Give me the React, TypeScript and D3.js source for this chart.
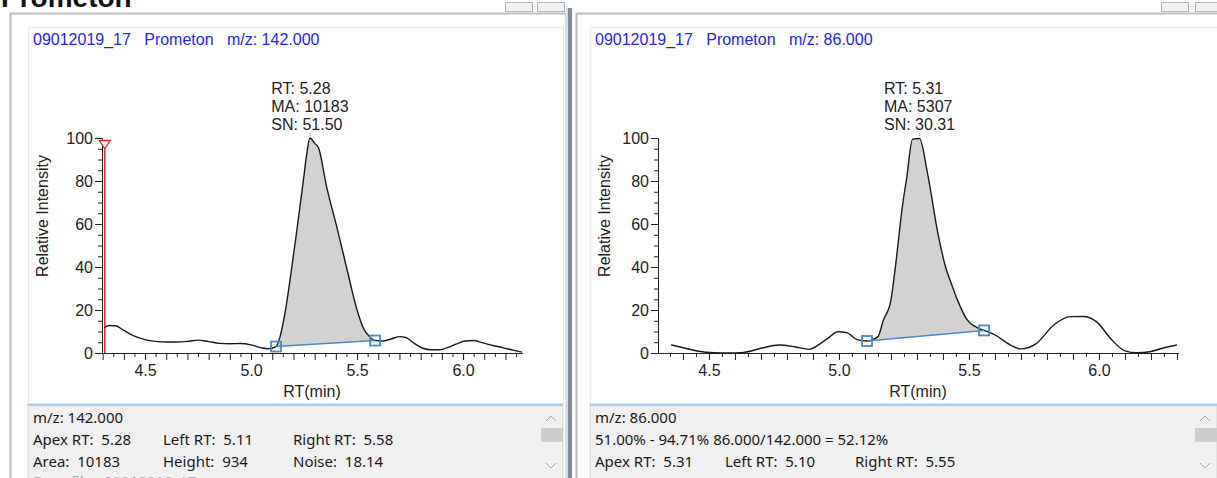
import { useEffect, useRef } from 'react';
import * as d3 from 'd3';

// m/z 142 trace (left)
const rt142 = [4.307, 4.33, 4.36, 4.4, 4.45, 4.5, 4.55, 4.6, 4.65, 4.7, 4.75, 4.8, 4.85, 4.9, 4.95, 5.0, 5.05, 5.08, 5.118, 5.137, 5.16, 5.184, 5.216, 5.247, 5.262, 5.278, 5.3, 5.318, 5.357, 5.404, 5.45, 5.5, 5.53, 5.56, 5.585, 5.62, 5.66, 5.7, 5.73, 5.77, 5.81, 5.85, 5.89, 5.93, 5.97, 6.01, 6.05, 6.09, 6.14, 6.19, 6.24, 6.278];
const int142 = [11.6, 12.8, 12.7, 10.5, 7.8, 6.2, 5.4, 5.1, 5.1, 5.4, 6.0, 5.3, 4.5, 4.3, 4.4, 3.8, 2.4, 2.0, 3.0, 7.6, 18.5, 34, 57, 80.5, 92, 100, 97.5, 95.5, 77, 58.8, 40, 20, 11.5, 7.5, 5.8, 5.6, 6.5, 7.6, 7.2, 4.5, 2.2, 1.5, 1.5, 2.6, 4.2, 5.6, 5.8, 4.8, 3.5, 2.4, 1.2, 0.4];

// m/z 86 trace (right)
const rt86 = [4.354, 4.41, 4.46, 4.52, 4.57, 4.635, 4.7, 4.77, 4.83, 4.885, 4.93, 4.957, 4.996, 5.03, 5.07, 5.108, 5.15, 5.17, 5.2, 5.215, 5.246, 5.26, 5.283, 5.31, 5.34, 5.38, 5.41, 5.43, 5.456, 5.49, 5.535, 5.558, 5.6, 5.66, 5.7, 5.76, 5.826, 5.89, 5.94, 5.99, 6.05, 6.1, 6.146, 6.196, 6.244, 6.3];
const int86 = [3.8, 2.2, 0.8, 0.1, 0, 0.3, 2.2, 3.7, 2.9, 1.7, 4.5, 6.8, 9.9, 9.5, 6.2, 5.6, 7.6, 15, 24.6, 38, 70, 81, 99.5, 99.8, 84, 56, 40, 33, 24.6, 16, 11.6, 10.5, 8.4, 3.7, 1.9, 4.5, 13, 16.9, 17, 14.6, 6, 1, 0.1, 0.6, 2.2, 3.7];

const xTickValues = [4.5, 5.0, 5.5, 6.0];
const yTickValues = [0, 20, 40, 60, 80, 100];

const headerText = 'Prometon';
const title142 = '09012019_17   Prometon   m/z: 142.000';
const title86 = '09012019_17   Prometon   m/z: 86.000';
const peakLabel142 = ['RT: 5.28', 'MA: 10183', 'SN: 51.50'];
const peakLabel86 = ['RT: 5.31', 'MA: 5307', 'SN: 30.31'];
const bounds142 = [5.118, 5.585];
const bounds86 = [5.108, 5.558];
const cursorRT = 4.31;

const info142 = [
  ['m/z: 142.000'],
  ['Apex RT:  5.28', 'Left RT:  5.11', 'Right RT:  5.58'],
  ['Area:  10183', 'Height:  934', 'Noise:  18.14'],
  ['Base file:  09012019_17'],
];
const info86 = [
  ['m/z: 86.000'],
  ['51.00% - 94.71% 86.000/142.000 = 52.12%'],
  ['Apex RT:  5.31', 'Left RT:  5.10', 'Right RT:  5.55'],
];

const CHART_FONT = '"Liberation Sans", Arial, sans-serif';
const UI_FONT = '"Segoe UI", "Noto Sans", sans-serif';

const panels = [
  { rt: rt142, intensity: int142, title: title142, peak: peakLabel142, bounds: bounds142, info: info142, cursor: cursorRT,
    frame: [10, 566], inner: [28, 563], plot: [102, 522], domain: [4.297, 6.278], buttons: [505, 537] },
  { rt: rt86, intensity: int86, title: title86, peak: peakLabel86, bounds: bounds86, info: info86, cursor: null,
    frame: [576, 1240], inner: [590, 1217], plot: [658, 1178], domain: [4.304, 6.304], buttons: [1161, 1195] },
];

const interp = (xs: number[], ys: number[], t: number) => {
  const i = Math.max(0, Math.min(xs.length - 2, d3.bisectRight(xs, t) - 1));
  const f = (t - xs[i]) / (xs[i + 1] - xs[i]);
  return ys[i] + f * (ys[i + 1] - ys[i]);
};

function drawPanel(svg: any, p: any) {
  const g = svg.append('g');
  const [fx0, fx1] = p.frame;
  const [ix0, ix1] = p.inner;
  const top = 13;

  // frame + chart area
  g.append('rect').attr('x', fx0 + 0.5).attr('y', top + 0.5).attr('width', fx1 - fx0).attr('height', 500)
    .attr('fill', '#fff').attr('stroke', '#bdbdbd').attr('stroke-width', 2);
  g.append('rect').attr('x', ix0 + 0.5).attr('y', 27.5).attr('width', ix1 - ix0).attr('height', 376)
    .attr('fill', '#fff').attr('stroke', '#e4ecf4');

  // small window buttons
  p.buttons.forEach((bx: number) => {
    g.append('rect').attr('x', bx + 0.5).attr('y', 2.5).attr('width', 27).attr('height', 9)
      .attr('fill', '#f2f2f2').attr('stroke', '#b4b4b4');
  });

  g.append('text').attr('x', ix0 + 5).attr('y', 45).attr('fill', '#2424ee')
    .attr('font-family', CHART_FONT).attr('font-size', 16).style('white-space', 'pre').text(p.title);

  const x = d3.scaleLinear().domain(p.domain).range(p.plot);
  const y = d3.scaleLinear().domain([0, 100]).range([353, 138]);
  const pts = p.rt.map((t: number, i: number) => [t, p.intensity[i]]);

  // peak fill between trace and baseline
  const [lo, hi] = p.bounds;
  const vLo = interp(p.rt, p.intensity, lo);
  const vHi = interp(p.rt, p.intensity, hi);
  const base = (t: number) => vLo + ((t - lo) / (hi - lo)) * (vHi - vLo);
  const peakPts = pts.filter((d: number[]) => d[0] >= lo - 1e-9 && d[0] <= hi + 1e-9);
  g.append('path').datum(peakPts)
    .attr('d', d3.area<number[]>().x((d) => x(d[0])).y0((d) => y(base(d[0]))).y1((d) => y(d[1])).curve(d3.curveMonotoneX))
    .attr('fill', '#d2d2d2');

  // axes
  const xMinor = d3.range(86, 127).map((i) => i * 0.05).filter((t) => t >= p.domain[0] - 1e-6 && t <= p.domain[1]);
  const axX = g.append('g').attr('transform', 'translate(0,353)');
  axX.append('g').call(d3.axisBottom(x).tickValues(xMinor.filter((t) => Math.round(t * 20) % 2 === 1)).tickSize(4).tickSizeOuter(0).tickFormat(() => ''));
  axX.append('g').call(d3.axisBottom(x).tickValues(xMinor.filter((t) => Math.round(t * 20) % 2 === 0)).tickSize(7).tickSizeOuter(0).tickFormat(() => ''));
  axX.append('g').call(d3.axisBottom(x).tickValues(xTickValues).tickSize(7).tickSizeOuter(0).tickPadding(5).tickFormat(d3.format('.1f')));

  const axY = g.append('g').attr('transform', `translate(${p.plot[0]},0)`);
  axY.append('g').call(d3.axisLeft(y).tickValues(d3.range(0, 101, 5)).tickSize(4).tickSizeOuter(0).tickFormat(() => ''));
  axY.append('g').call(d3.axisLeft(y).tickValues(yTickValues).tickSize(7).tickSizeOuter(0).tickPadding(2));

  g.selectAll('.tick text').attr('font-family', CHART_FONT).attr('font-size', 16).attr('fill', '#222');
  g.selectAll('.domain, .tick line').attr('stroke', '#222');

  // axis titles
  g.append('text').attr('x', (p.plot[0] + p.plot[1]) / 2).attr('y', 397).attr('text-anchor', 'middle')
    .attr('font-family', CHART_FONT).attr('font-size', 16).attr('fill', '#222').text('RT(min)');
  g.append('text').attr('transform', `translate(${ix0 + 20},216) rotate(-90)`).attr('text-anchor', 'middle')
    .attr('font-family', CHART_FONT).attr('font-size', 16).attr('fill', '#222').text('Relative Intensity');

  // cursor marker
  if (p.cursor != null) {
    const cx = x(p.cursor);
    g.append('line').attr('x1', cx).attr('x2', cx).attr('y1', 146).attr('y2', 353).attr('stroke', '#e8262a').attr('stroke-width', 1.5);
    g.append('path').attr('d', `M${cx - 5.5},140.5 L${cx + 5.5},140.5 L${cx},148.5 Z`).attr('fill', '#fff').attr('stroke', '#e8262a').attr('stroke-width', 1.3);
  }

  // trace
  g.append('path').datum(pts)
    .attr('d', d3.line<number[]>().x((d) => x(d[0])).y((d) => y(d[1])).curve(d3.curveMonotoneX))
    .attr('fill', 'none').attr('stroke', '#1a1a1a').attr('stroke-width', 1.4);

  // baseline + boundary markers
  g.append('line').attr('x1', x(lo)).attr('y1', y(vLo)).attr('x2', x(hi)).attr('y2', y(vHi))
    .attr('stroke', '#4a88c8').attr('stroke-width', 1.6);
  [[lo, vLo], [hi, vHi]].forEach(([t, v]) => {
    g.append('rect').attr('x', x(t) - 5).attr('y', y(v) - 5).attr('width', 10).attr('height', 10)
      .attr('fill', 'none').attr('stroke', '#4a88c8').attr('stroke-width', 1.8);
  });

  // apex label
  const apexIdx = d3.maxIndex(p.intensity);
  const ax = x(p.rt[apexIdx]);
  g.append('line').attr('x1', ax).attr('x2', ax).attr('y1', 133).attr('y2', 137)
    .attr('stroke', '#6aa6dc').attr('stroke-dasharray', '1,1');
  const lab = g.append('g');
  p.peak.forEach((s: string, i: number) => {
    lab.append('text').attr('y', 94 + i * 18).attr('font-family', CHART_FONT).attr('font-size', 16)
      .attr('fill', '#222').text(s);
  });
  let maxW = 0;
  lab.selectAll('text').each(function () { maxW = Math.max(maxW, (this as SVGTextElement).getComputedTextLength()); });
  lab.selectAll('text').attr('x', ax - maxW / 2);

  // info panel
  const ip = g.append('g');
  ip.append('rect').attr('x', ix0).attr('y', 404).attr('width', ix1 - ix0).attr('height', 80)
    .attr('fill', '#f0f0f0').attr('stroke', '#d6d6d6');
  ip.append('line').attr('x1', ix0).attr('x2', ix1).attr('y1', 405).attr('y2', 405).attr('stroke', '#a9cde6').attr('stroke-width', 2);
  const cols = [5, 135, 265];
  const rowY = [423, 445, 467, 487];
  p.info.forEach((row: string[], r: number) => {
    row.forEach((s, c) => {
      ip.append('text').attr('x', ix0 + cols[c]).attr('y', rowY[r]).attr('font-family', UI_FONT).attr('font-size', 15)
        .attr('fill', r === 3 ? '#a8a8a8' : '#1a1a1a').style('white-space', 'pre').text(s);
    });
  });
  const sx = ix1 - 12;
  ip.append('path').attr('d', `M${sx - 5},421 L${sx},416 L${sx + 5},421`).attr('fill', 'none').attr('stroke', '#a8a8a8');
  ip.append('rect').attr('x', ix1 - 22).attr('y', 428).attr('width', 22).attr('height', 14).attr('fill', '#cdcdcd');
  ip.append('path').attr('d', `M${sx - 5},463 L${sx},468 L${sx + 5},463`).attr('fill', 'none').attr('stroke', '#a8a8a8');
}

export default function App() {
  const ref = useRef<SVGSVGElement>(null);

  useEffect(() => {
    const svg = d3.select(ref.current);
    svg.selectAll('*').remove();

    panels.forEach((p) => drawPanel(svg, p));

    // splitter between the two panes
    svg.append('rect').attr('x', 566).attr('y', 8).attr('width', 2).attr('height', 470).attr('fill', '#d8dde2');
    svg.append('rect').attr('x', 568).attr('y', 8).attr('width', 4).attr('height', 470).attr('fill', '#7f8fa0');

    svg.append('text').attr('x', 1).attr('y', 7).attr('font-family', CHART_FONT).attr('font-weight', 'bold')
      .attr('font-size', 28).attr('fill', '#111').text(headerText);
  }, []);

  return <svg ref={ref} width={1217} height={478} style={{ position: 'absolute', left: 0, top: 0, background: '#fff' }} />;
}
